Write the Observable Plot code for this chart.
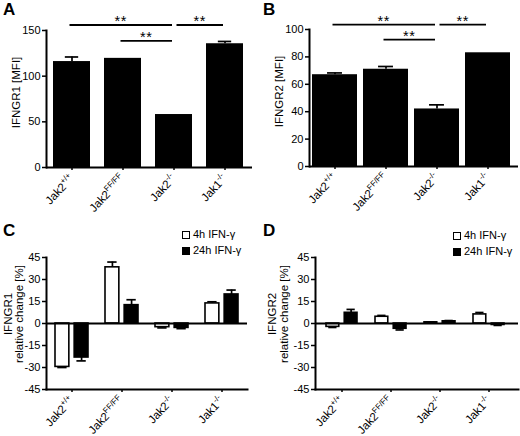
<!DOCTYPE html>
<html><head><meta charset="utf-8">
<script src="https://cdn.jsdelivr.net/npm/d3@7"></script>
<script src="https://cdn.jsdelivr.net/npm/@observablehq/plot@0.6"></script>
<style>
body{margin:0;background:#fff;}
#wrap{position:relative;width:520px;height:436px;font-family:"Liberation Sans",Arial,sans-serif;color:#000;overflow:hidden;}
.panel{position:absolute;width:260px;height:218px;}
.letter{position:absolute;font-weight:bold;font-size:17px;line-height:17px;}
.legend{position:absolute;font-size:11px;line-height:15.7px;}
.legend .row{display:flex;align-items:center;height:15.7px;}
.sw{width:6px;height:6px;border:1.6px solid #000;margin-right:3.5px;}
</style></head><body><div id="wrap"></div>
<script>
// ---- data ----
const categories = ["Jak2+/+", "Jak2FF/FF", "Jak2-/-", "Jak1-/-"];
const labelBase = ["Jak2", "Jak2", "Jak2", "Jak1"];
const labelSup = ["+/+", "FF/FF", "-/-", "-/-"];

// A: IFNGR1 [MFI]
const mfiR1 = [116, 119.5, 58, 135.5];
const mfiR1Err = [5, 0, 0, 2.5];
// B: IFNGR2 [MFI]
const mfiR2 = [67, 71, 42, 83];
const mfiR2Err = [1.3, 2, 3, 0];

// significance brackets
const sigAFrom = ["Jak2+/+", "Jak2-/-", "Jak2FF/FF"];
const sigATo = ["Jak2-/-", "Jak1-/-", "Jak2-/-"];
const sigAY = [155.5, 155.5, 138];
const sigBFrom = ["Jak2+/+", "Jak2-/-", "Jak2FF/FF"];
const sigBTo = ["Jak2-/-", "Jak1-/-", "Jak2-/-"];
const sigBY = [103.2, 103.2, 92.2];
const sigLabel = ["**", "**", "**"];

// C: IFNGR1 relative change [%]
const r1h4 = [-29.6, 38.3, -2.5, 13.7];
const r1h4Err = [0.4, 3.6, 0.5, 1.1];
const r1h24 = [-23.2, 12.5, -3, 19.8];
const r1h24Err = [2.3, 3.7, 0.5, 3];
// D: IFNGR2 relative change [%]
const r2h4 = [-2.3, 4.6, 0.8, 6.2];
const r2h4Err = [0.4, 0.9, 0.3, 1.3];
const r2h24 = [7.3, -3.6, 1.5, -1];
const r2h24Err = [2.3, 0.8, 0.5, 0.3];

const seriesNames = ["4h IFN-\u03b3", "24h IFN-\u03b3"];
const ticksMFI1 = [0, 50, 100, 150];
const ticksMFI2 = [0, 20, 40, 60, 80, 100];
const ticksRel = [-45, -30, -15, 0, 15, 30, 45];

// ---- helpers ----
const NS = "http://www.w3.org/2000/svg";
const el = (t) => document.createElementNS(NS, t);
const rows = (vals, errs, sym) => categories.map((c, i) => {
  const v = vals[i], e = errs[i];
  const end = sym ? (v < 0 ? v - e : v + e) : v + e;
  return {cat: c, v, end};
});

function yLabel(lines, x0, dyc, lh) {
  return (index, scales, values, dims) => {
    const g = el("g");
    const yc = (dims.marginTop + dims.height - dims.marginBottom) / 2 + dyc;
    lines.forEach((t, i) => {
      const tx = el("text");
      tx.setAttribute("transform", `translate(${x0 + i * lh},${yc}) rotate(-90)`);
      tx.setAttribute("text-anchor", "middle");
      tx.setAttribute("dominant-baseline", "central");
      tx.setAttribute("font-size", "11.5");
      tx.textContent = t;
      g.appendChild(tx);
    });
    return g;
  };
}

function brackets(from, to, yv, labels) {
  return (index, scales) => {
    const x = scales.x, y = scales.y;
    const bw = x.bandwidth ? x.bandwidth() : 0;
    const g = el("g");
    from.forEach((f, i) => {
      const joined = to.some((t, j) => j !== i && t === f && yv[j] === yv[i]);
      const x1 = x(f) + bw / 2 + (joined ? 3 : -2);
      const x2 = x(to[i]) + bw / 2 - 1.5;
      const yy = y(yv[i]);
      const ln = el("line");
      ln.setAttribute("x1", x1); ln.setAttribute("x2", x2);
      ln.setAttribute("y1", yy); ln.setAttribute("y2", yy);
      ln.setAttribute("stroke", "#000"); ln.setAttribute("stroke-width", 1.8);
      g.appendChild(ln);
      const tx = el("text");
      tx.setAttribute("x", (x1 + x2) / 2); tx.setAttribute("y", yy + 1.5);
      tx.setAttribute("text-anchor", "middle");
      tx.setAttribute("font-size", "14.5");
      tx.setAttribute("letter-spacing", "0.5");
      tx.textContent = labels[i];
      g.appendChild(tx);
    });
    return g;
  };
}

function superscriptTicks(svg) {
  svg.querySelectorAll('g[aria-label="x-axis tick label"] text').forEach((t) => {
    const i = categories.indexOf(t.textContent.trim());
    if (i < 0) return;
    t.textContent = "";
    const a = el("tspan"); a.textContent = labelBase[i]; t.appendChild(a);
    const b = el("tspan"); b.textContent = labelSup[i];
    b.setAttribute("font-size", "8"); b.setAttribute("dy", "-0.6em");
    t.appendChild(b);
  });
}

const W = 260, H = 218;
const baseStyle = {fontFamily: "'Liberation Sans', Arial, sans-serif", fontSize: "11px", color: "#000", background: "transparent", overflow: "visible"};
const xAxis = () => Plot.axisX({tickRotate: -47, tickSize: 3, tickPadding: 6, strokeWidth: 1.5, fontSize: 11.5, label: null});

function mfiPanel({vals, errs, ticks, domain, label, mL, mR, mT, mB, pI, pO, align, capW, sig}) {
  const data = rows(vals, errs, false);
  const bw = d3.scaleBand().domain(categories).range([mL, W - mR]).paddingInner(pI).paddingOuter(pO).align(align).bandwidth();
  const ci = Math.max(0, (bw - capW) / 2);
  const svg = Plot.plot({
    width: W, height: H, marginLeft: mL, marginRight: mR, marginTop: mT, marginBottom: mB,
    style: baseStyle,
    x: {domain: categories, paddingInner: pI, paddingOuter: pO, align},
    y: {domain},
    marks: [
      Plot.barY(data, {x: "cat", y: "v", fill: "#000"}),
      Plot.ruleX(data, {x: "cat", y1: "v", y2: "end", stroke: "#000", strokeWidth: 1.7}),
      Plot.tickY(data.filter((d) => d.end !== d.v), {x: "cat", y: "end", stroke: "#000", strokeWidth: 1.7, insetLeft: ci, insetRight: ci}),
      Plot.ruleY([0], {stroke: "#000", strokeWidth: 2}),
      Plot.frame({anchor: "left", stroke: "#000", strokeWidth: 2}),
      Plot.axisY({ticks, tickSize: 4, tickPadding: 2, strokeWidth: 1.5, fontSize: 11, label: null, tickFormat: (d) => String(d)}),
      xAxis(),
      yLabel([label], mL - 30.5, -6, 0),
      brackets(sig.from, sig.to, sig.y, sigLabel)
    ]
  });
  superscriptTicks(svg);
  return svg;
}

function relPanel({v4, e4, v24, e24, label, mL, mR, mT, mB, pI, pO, align, barW, capW, lx}) {
  const d4 = rows(v4, e4, true), d24 = rows(v24, e24, true);
  const bw = d3.scaleBand().domain(categories).range([mL, W - mR]).paddingInner(pI).paddingOuter(pO).align(align).bandwidth();
  const rest = bw - barW, cc = (barW - capW) / 2, sh = bw / 2 - barW / 2;
  const svg = Plot.plot({
    width: W, height: H, marginLeft: mL, marginRight: mR, marginTop: mT, marginBottom: mB,
    style: baseStyle,
    x: {domain: categories, paddingInner: pI, paddingOuter: pO, align},
    y: {domain: [-45, 45]},
    marks: [
      Plot.ruleX(d4, {x: "cat", y1: "v", y2: "end", stroke: "#000", strokeWidth: 1.7, dx: -sh}),
      Plot.tickY(d4, {x: "cat", y: "end", stroke: "#000", strokeWidth: 1.7, insetLeft: cc, insetRight: rest + cc}),
      Plot.ruleX(d24, {x: "cat", y1: "v", y2: "end", stroke: "#000", strokeWidth: 1.7, dx: sh}),
      Plot.tickY(d24, {x: "cat", y: "end", stroke: "#000", strokeWidth: 1.7, insetLeft: rest + cc, insetRight: cc}),
      Plot.barY(d4, {x: "cat", y: "v", fill: "#fff", stroke: "#000", strokeWidth: 1.6, insetRight: rest}),
      Plot.barY(d24, {x: "cat", y: "v", fill: "#000", stroke: "#000", strokeWidth: 1.6, insetLeft: rest}),
      Plot.ruleY([0], {stroke: "#000", strokeWidth: 2}),
      Plot.frame({anchor: "bottom", stroke: "#000", strokeWidth: 2}),
      Plot.frame({anchor: "left", stroke: "#000", strokeWidth: 2}),
      Plot.axisY({ticks: ticksRel, tickSize: 4, tickPadding: 2, strokeWidth: 1.5, fontSize: 11, label: null, tickFormat: (d) => String(d)}),
      xAxis(),
      yLabel(label, lx, -9, 11.5)
    ]
  });
  superscriptTicks(svg);
  return svg;
}

const wrap = document.getElementById("wrap");
function place(node, x, y) {
  const d = document.createElement("div");
  d.className = "panel"; d.style.left = x + "px"; d.style.top = y + "px";
  d.appendChild(node); wrap.appendChild(d);
}
function letter(t, x, y) {
  const d = document.createElement("div");
  d.className = "letter"; d.style.left = x + "px"; d.style.top = y + "px";
  d.textContent = t; wrap.appendChild(d);
}
function legend(x, y) {
  const d = document.createElement("div");
  d.className = "legend"; d.style.left = x + "px"; d.style.top = y + "px";
  seriesNames.forEach((n, i) => {
    const r = document.createElement("div"); r.className = "row";
    const s = document.createElement("div"); s.className = "sw";
    s.style.background = i === 0 ? "#fff" : "#000";
    const t = document.createElement("span"); t.textContent = n;
    r.appendChild(s); r.appendChild(t); d.appendChild(r);
  });
  wrap.appendChild(d);
}

place(mfiPanel({vals: mfiR1, errs: mfiR1Err, ticks: ticksMFI1, domain: [0, 150], label: "IFNGR1 [MFI]",
  mL: 46, mR: 8, mT: 30, mB: 51, pI: 0.27, pO: 0.132, align: 0.42, capW: 14,
  sig: {from: sigAFrom, to: sigATo, y: sigAY}}), 0, 0);
place(mfiPanel({vals: mfiR2, errs: mfiR2Err, ticks: ticksMFI2, domain: [0, 100], label: "IFNGR2 [MFI]",
  mL: 49, mR: 2, mT: 29, mB: 52, pI: 0.126, pO: 0.089, align: 0.26, capW: 15,
  sig: {from: sigBFrom, to: sigBTo, y: sigBY}}), 260, 0);
place(relPanel({v4: r1h4, e4: r1h4Err, v24: r1h24, e24: r1h24Err, label: ["IFNGR1", "relative change [%]"],
  mL: 46, mR: 13, mT: 39, mB: 47, pI: 0.35, pO: 0.175, align: 0.5, barW: 13.5, capW: 9, lx: 7.5}), 0, 218);
place(relPanel({v4: r2h4, e4: r2h4Err, v24: r2h24, e24: r2h24Err, label: ["IFNGR2", "relative change [%]"],
  mL: 55, mR: 2, mT: 39, mB: 47, pI: 0.36, pO: 0.227, align: 0.43, barW: 13.5, capW: 9, lx: 12}), 260, 218);

letter("A", 3, 1); letter("B", 263, 1); letter("C", 3, 222); letter("D", 263, 222);
legend(181.5, 227); legend(452.5, 228);
</script></body></html>
